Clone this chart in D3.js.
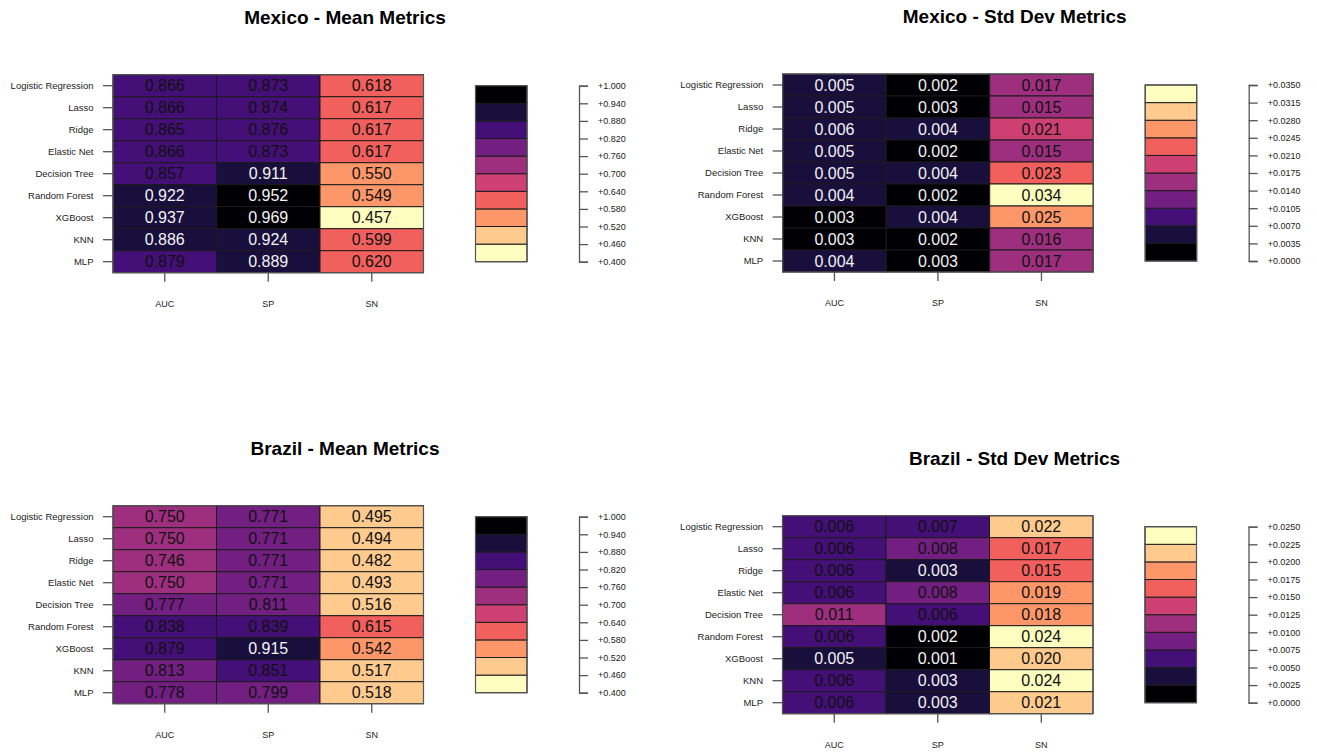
<!DOCTYPE html>
<html>
<head>
<meta charset="utf-8">
<script src="https://cdn.jsdelivr.net/npm/d3@7"></script>
<style>
  body { margin: 0; background: #fff; }
  svg { font-family: "Liberation Sans", Arial, Helvetica, sans-serif; }
</style>
</head>
<body>
<div id="chart"></div>
<script>
// data
const models = ["Logistic Regression", "Lasso", "Ridge", "Elastic Net", "Decision Tree",
                "Random Forest", "XGBoost", "KNN", "MLP"]
const metrics = ["AUC", "SP", "SN"]

// one row per model: AUC, SP, SN
const mexicoMean = [
  [0.866, 0.873, 0.618], [0.866, 0.874, 0.617], [0.865, 0.876, 0.617],
  [0.866, 0.873, 0.617], [0.857, 0.911, 0.550], [0.922, 0.952, 0.549],
  [0.937, 0.969, 0.457], [0.886, 0.924, 0.599], [0.879, 0.889, 0.620]
]
const mexicoStd = [
  [0.005, 0.002, 0.017], [0.005, 0.003, 0.015], [0.006, 0.004, 0.0208],
  [0.005, 0.002, 0.015], [0.005, 0.004, 0.023], [0.004, 0.002, 0.034],
  [0.003, 0.004, 0.025], [0.003, 0.002, 0.016], [0.004, 0.003, 0.017]
]
const brazilMean = [
  [0.750, 0.771, 0.495], [0.750, 0.771, 0.494], [0.746, 0.771, 0.482],
  [0.750, 0.771, 0.493], [0.777, 0.811, 0.516], [0.838, 0.839, 0.615],
  [0.879, 0.915, 0.542], [0.813, 0.851, 0.517], [0.778, 0.799, 0.518]
]
const brazilStd = [
  [0.006, 0.007, 0.022], [0.006, 0.008, 0.017], [0.006, 0.003, 0.0152],
  [0.006, 0.008, 0.019], [0.011, 0.006, 0.018], [0.006, 0.002, 0.024],
  [0.0049, 0.001, 0.0202], [0.006, 0.003, 0.024], [0.006, 0.003, 0.021]
]

// legend tick labels
const meanTicks = [0.400, 0.460, 0.520, 0.580, 0.640, 0.700, 0.760, 0.820, 0.880, 0.940, 1.000]
const mexicoStdTicks = [0.0000, 0.0035, 0.0070, 0.0105, 0.0140, 0.0175, 0.0210, 0.0245, 0.0280, 0.0315, 0.0350]
const brazilStdTicks = [0.0000, 0.0025, 0.0050, 0.0075, 0.0100, 0.0125, 0.0150, 0.0175, 0.0200, 0.0225, 0.0250]

// layout
const width = 1317, height = 752
const hmW = 310.5, hmH = 198
const panels = [
  {title: "Mexico - Mean Metrics", values: mexicoMean, ticks: meanTicks, fmt: ".3f", reverse: true, x: 113, y: 74.7},
  {title: "Mexico - Std Dev Metrics", values: mexicoStd, ticks: mexicoStdTicks, fmt: ".4f", reverse: false, x: 782.7, y: 74},
  {title: "Brazil - Mean Metrics", values: brazilMean, ticks: meanTicks, fmt: ".3f", reverse: true, x: 113, y: 505.7},
  {title: "Brazil - Std Dev Metrics", values: brazilStd, ticks: brazilStdTicks, fmt: ".4f", reverse: false, x: 782.5, y: 515.7}
]

const magma = d3.quantize(d3.interpolateMagma, 10)

const svg = d3.select("#chart").append("svg")
  .attr("width", width)
  .attr("height", height)

// shared row/col scales
const x = d3.scaleBand().domain(metrics).range([0, hmW])
const y = d3.scaleBand().domain(models).range([0, hmH])

panels.forEach(p => {
  const g = svg.append("g").attr("transform", `translate(${p.x}, ${p.y})`)

  const domain = d3.extent(p.ticks)
  const color = d3.scaleQuantize()
    .domain(domain)
    .range(p.reverse ? magma.slice().reverse() : magma)

  const cells = models.flatMap((m, i) => metrics.map((k, j) => ({model: m, metric: k, value: p.values[i][j]})))

  // title
  g.append("text")
    .attr("x", 232)
    .attr("y", -51)
    .attr("text-anchor", "middle")
    .attr("font-weight", "bold")
    .style("font-size", "19px")
    .attr("fill", "#000")
    .text(p.title)

  // heatmap cells
  g.append("g").selectAll("rect")
    .data(cells)
    .join("rect")
    .attr("x", d => x(d.metric))
    .attr("y", d => y(d.model))
    .attr("width", x.bandwidth())
    .attr("height", y.bandwidth())
    .attr("fill", d => color(d.value))
    .attr("stroke", "#1b1b1b")
    .attr("stroke-width", 1)

  g.append("rect")
    .attr("width", hmW)
    .attr("height", hmH)
    .attr("fill", "none")
    .attr("stroke", "#555")
    .attr("stroke-width", 1.2)

  g.append("g").selectAll("text")
    .data(cells)
    .join("text")
    .attr("x", d => x(d.metric) + x.bandwidth() / 2)
    .attr("y", d => y(d.model) + y.bandwidth() / 2)
    .attr("dy", "0.36em")
    .attr("text-anchor", "middle")
    .style("font-size", "16px")
    .attr("fill", d => d3.hsl(color(d.value)).l < 0.2 ? "#f2f2f2" : "#111")
    .text(d => d3.format(".3f")(d.value))

  // axes
  g.append("g")
    .call(d3.axisLeft(y).tickSize(10).tickPadding(9.5))
    .call(a => a.select(".domain").remove())
    .call(a => a.selectAll(".tick line").attr("stroke", "#555").attr("stroke-width", 1.3))
    .call(a => a.selectAll(".tick text").attr("fill", "#222").style("font-size", "9.5px").attr("font-family", null))

  g.append("g")
    .attr("transform", `translate(0, ${hmH})`)
    .call(d3.axisBottom(x).tickSize(9).tickPadding(19))
    .call(a => a.select(".domain").remove())
    .call(a => a.selectAll(".tick line").attr("stroke", "#555").attr("stroke-width", 1.3))
    .call(a => a.selectAll(".tick text").attr("fill", "#222").style("font-size", "9px").attr("font-family", null))

  // legend
  const ly = d3.scaleLinear().domain(domain).range([hmH - 11, 11])
  const bins = d3.range(10).map(i => [p.ticks[i], p.ticks[i + 1]])

  const legend = g.append("g").attr("transform", "translate(362.5, 0)")
  legend.selectAll("rect")
    .data(bins)
    .join("rect")
    .attr("x", 0)
    .attr("y", d => ly(d[1]))
    .attr("width", 51.5)
    .attr("height", d => ly(d[0]) - ly(d[1]))
    .attr("fill", d => color((d[0] + d[1]) / 2))
    .attr("stroke", "#1b1b1b")
    .attr("stroke-width", 1)
  legend.append("rect")
    .attr("y", ly(domain[1]))
    .attr("width", 51.5)
    .attr("height", ly(domain[0]) - ly(domain[1]))
    .attr("fill", "none")
    .attr("stroke", "#555")
    .attr("stroke-width", 1.2)

  g.append("g")
    .attr("transform", "translate(466, 0)")
    .call(d3.axisRight(ly).tickValues(p.ticks).tickSize(9).tickSizeOuter(9).tickPadding(10)
      .tickFormat(d => "+" + d3.format(p.fmt)(d)))
    .call(a => a.select(".domain").attr("stroke", "#555").attr("stroke-width", 1.3))
    .call(a => a.selectAll(".tick line").attr("stroke", "#555").attr("stroke-width", 1.3))
    .call(a => a.selectAll(".tick text").attr("fill", "#222").style("font-size", "9px").attr("font-family", null))
})
</script>
</body>
</html>
